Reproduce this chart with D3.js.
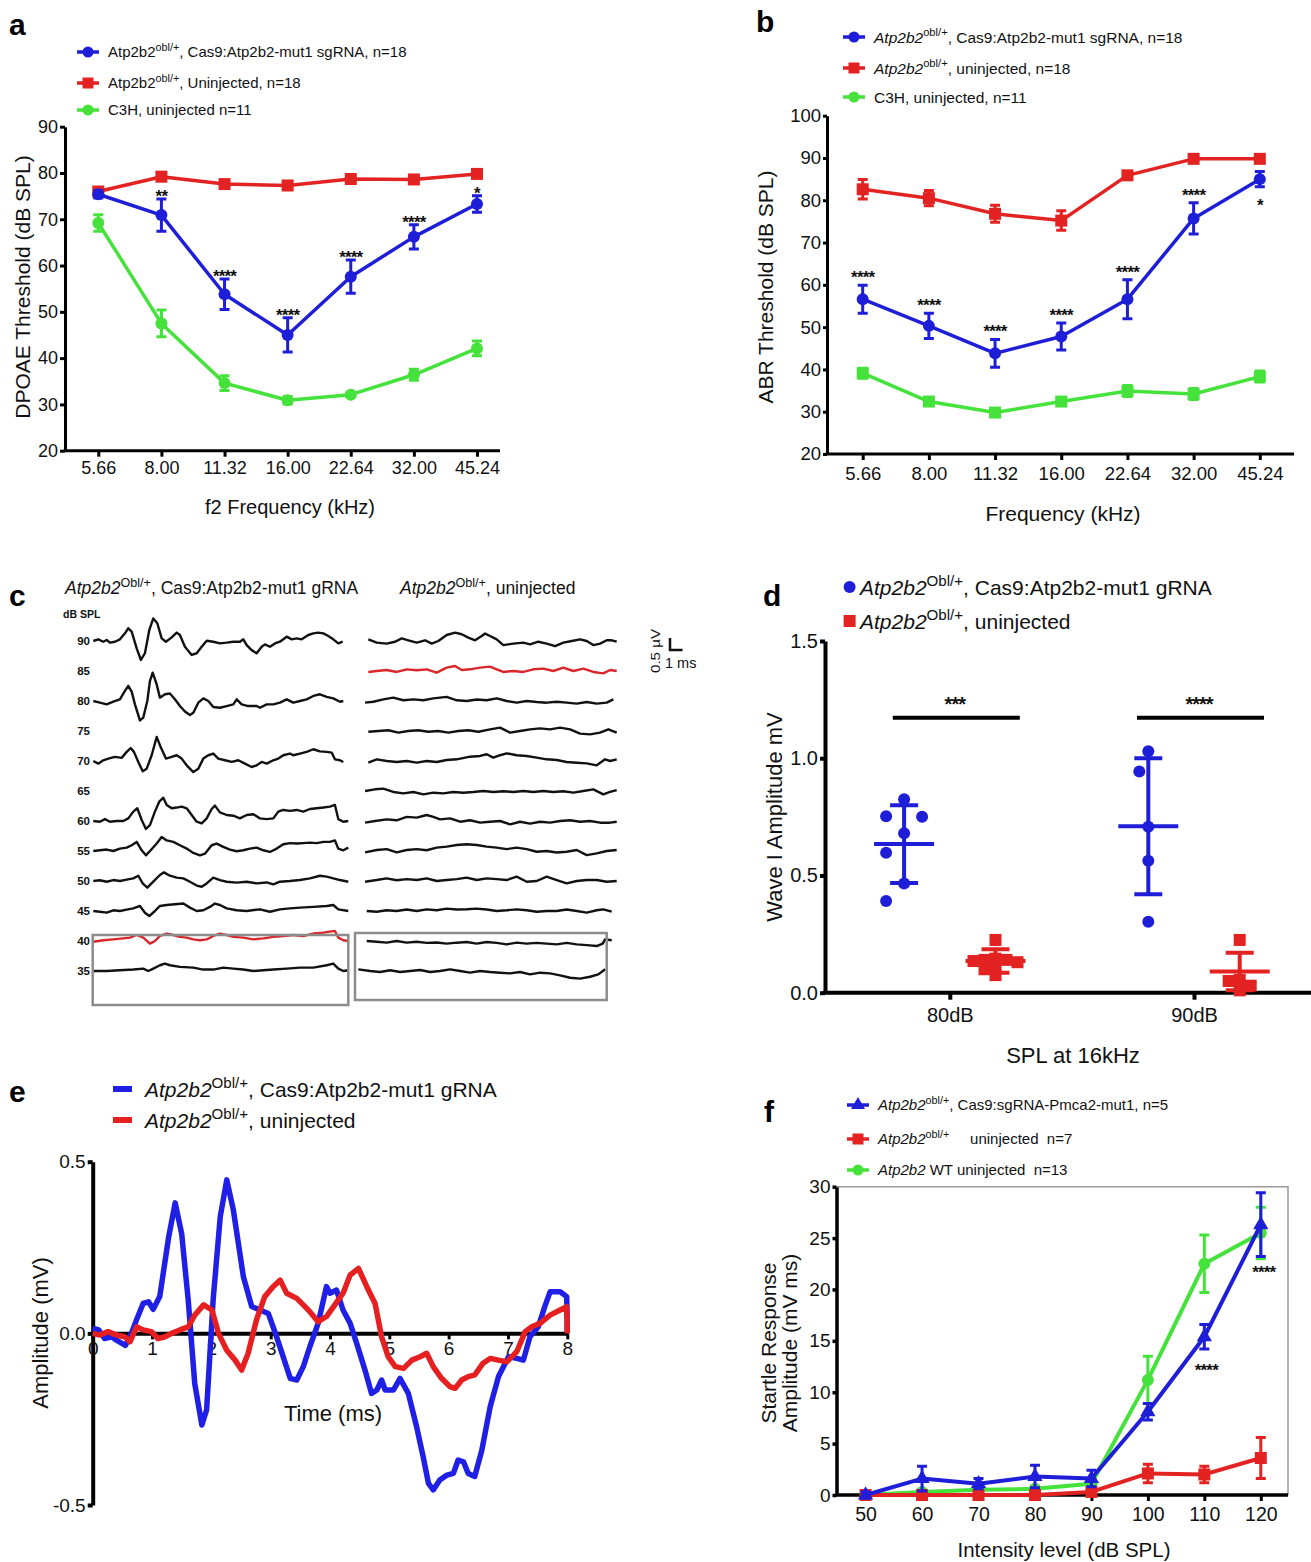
<!DOCTYPE html>
<html>
<head>
<script src="https://d3js.org/d3.v7.min.js"></script>
<style>
  body { margin: 0; background: #fff; }
  svg { display: block; font-family: "Liberation Sans", Arial, Helvetica, sans-serif; }
</style>
</head>
<body>
<svg id="fig" width="1311" height="1562"></svg>
<script>
// ---------- data ----------
// panel a : DPOAE thresholds
const freqs = ["5.66", "8.00", "11.32", "16.00", "22.64", "32.00", "45.24"];
const dpoaeUninj = [76, 79.2, 77.6, 77.3, 78.7, 78.6, 79.8];
const dpoaeUninjErr = [0.7, 0.7, 0.7, 0.7, 0.7, 0.7, 0.7];
const dpoaeCas9 = [75.4, 70.9, 53.8, 45, 57.6, 66.2, 73.3];
const dpoaeCas9Err = [0.8, 3.5, 3.3, 3.7, 3.6, 2.6, 1.8];
const dpoaeC3H = [69.2, 47.5, 34.6, 30.9, 32.1, 36.4, 42.1];
const dpoaeC3HErr = [1.8, 2.9, 1.6, 0.8, 0.5, 1.2, 1.6];
const dpoaeStars = ["", "**", "****", "****", "****", "****", "*"];

// panel b : ABR thresholds
const abrUninj = [82.6, 80.5, 76.8, 75.2, 85.9, 89.8, 89.8];
const abrUninjErr = [2.3, 1.8, 2, 2.3, 0.8, 0.5, 0.5];
const abrCas9 = [56.6, 50.3, 43.8, 47.8, 56.6, 75.7, 85];
const abrCas9Err = [3.3, 3, 3.3, 3.2, 4.6, 3.7, 1.8];
const abrC3H = [39.1, 32.4, 29.8, 32.4, 34.9, 34.2, 38.3];
const abrC3HErr = [1.2, 0.7, 0.5, 0.7, 1.3, 1.3, 1.3];
const abrStars = ["****", "****", "****", "****", "****", "****", "*"];

// panel c : ABR traces (ms, µV)
const abrLevels = [90, 85, 80, 75, 70, 65, 60, 55, 50, 45, 40, 35];
const cas9Trace90 = [[0,0],[0.4,0.07],[0.8,-0.03],[1.07,0.04],[1.33,-0.07],[1.73,-0.03],[2.13,0.07],[2.53,0.32],[2.8,0.53],[3.07,0.39],[3.47,-0.31],[3.81,-0.79],[4.13,-0.51],[4.48,0.46],[4.8,0.94],[5.12,0.74],[5.47,0.11],[5.81,-0.03],[6.27,0.15],[6.67,0.35],[6.93,0.25],[7.33,-0.24],[7.87,-0.58],[8.27,-0.51],[8.67,-0.24],[9.07,0.01],[9.6,-0.03],[10.13,-0.1],[10.67,-0.07],[11.2,-0.03],[11.73,-0.03],[12,0.07],[12.27,-0.17],[12.67,-0.38],[13.07,-0.51],[13.47,-0.24],[13.73,-0.14],[14.13,-0.24],[14.53,-0.1],[14.93,-0.03],[15.47,0.18],[15.87,0.07],[16.27,0.11],[16.67,0.07],[17.2,0.25],[17.6,0.32],[18,0.35],[18.4,0.32],[18.8,0.21],[19.2,0.07],[19.6,-0.1],[19.95,-0.03]];
const cas9Trace80 = [[0,0],[0.53,-0.07],[1.07,-0.14],[1.6,-0.03],[2.13,0.07],[2.53,0.42],[2.8,0.63],[3.07,0.39],[3.33,-0.14],[3.73,-0.81],[4,-0.69],[4.32,0],[4.53,0.83],[4.75,1.18],[5.07,0.69],[5.33,0.14],[5.73,0.28],[6.13,0.31],[6.53,0.07],[6.93,-0.21],[7.33,-0.44],[7.73,-0.58],[8,-0.49],[8.4,-0.07],[8.8,0.11],[9.2,0],[9.6,-0.25],[10.13,-0.28],[10.67,-0.21],[11.2,-0.14],[11.47,0.07],[11.87,-0.14],[12.4,-0.21],[13.07,-0.21],[13.33,-0.28],[13.87,-0.14],[14.4,-0.14],[14.93,-0.07],[15.47,0.07],[16,-0.07],[16.53,0],[17.07,0.07],[17.6,0.21],[18.13,0.28],[18.67,0.17],[19.2,0.11],[19.73,-0.03],[20,0]];
const cas9Trace70 = [[0,0],[0.4,-0.11],[0.8,0.03],[1.2,0.1],[1.73,0.17],[2.27,0.13],[2.67,0.38],[2.99,0.54],[3.25,0.38],[3.6,-0.04],[3.95,-0.43],[4.27,-0.32],[4.67,0.24],[5.07,1.0],[5.39,0.58],[5.81,0.1],[6.27,0.17],[6.67,0.24],[7.07,0.1],[7.47,-0.18],[8,-0.46],[8.4,-0.32],[8.8,0.1],[9.2,0.24],[9.6,0.31],[10,0.1],[10.53,0.03],[11.07,-0.04],[11.6,0.03],[12.13,-0.11],[12.67,-0.25],[13.07,-0.18],[13.47,-0.04],[13.87,-0.11],[14.4,0.03],[14.8,0.1],[15.2,0.24],[15.73,0.31],[16,0.24],[16.53,0.31],[17.07,0.38],[17.6,0.49],[18.13,0.4],[18.67,0.38],[19.07,0.35],[19.33,0.07],[19.73,0.03],[20,-0.04]];
const cas9Trace60 = [[0,0],[0.53,-0.03],[0.93,0.08],[1.33,-0.03],[1.87,0],[2.4,0],[2.8,0.11],[3.2,0.39],[3.52,0.53],[3.87,0.04],[4.21,-0.33],[4.53,-0.17],[4.93,0.39],[5.28,0.81],[5.6,0.97],[5.87,0.67],[6.27,0.53],[6.67,0.56],[7.07,0.6],[7.47,0.53],[7.87,0.25],[8.27,-0.03],[8.67,-0.1],[9.07,0.11],[9.47,0.5],[9.73,0.64],[10.13,0.36],[10.67,0.25],[11.2,0.22],[11.73,0.11],[12.27,0.25],[12.8,0.28],[13.33,0.11],[13.87,0.08],[14.4,0.11],[14.8,0.39],[15.2,0.46],[15.73,0.42],[16.27,0.46],[16.8,0.39],[17.33,0.5],[17.87,0.53],[18.4,0.56],[18.93,0.6],[19.33,0.67],[19.6,0.08],[20,-0.03],[20.4,0]];
const cas9Trace55 = [[0,0],[0.53,0.03],[1.07,0.06],[1.6,0],[2.13,0.1],[2.67,0.14],[3.07,0.24],[3.47,0.38],[3.87,0.03],[4.21,-0.18],[4.59,0.03],[5.07,0.31],[5.47,0.58],[5.87,0.44],[6.4,0.38],[6.93,0.24],[7.47,0.1],[8,-0.08],[8.53,-0.18],[8.93,-0.11],[9.47,0.24],[9.87,0.31],[10.4,0.17],[10.93,0.06],[11.47,-0.01],[12,0.03],[12.53,0.1],[13.07,0.14],[13.6,0.03],[14.13,-0.04],[14.67,0.1],[15.2,0.28],[15.73,0.33],[16.27,0.31],[16.8,0.33],[17.33,0.35],[17.87,0.33],[18.4,0.38],[18.93,0.38],[19.33,0.44],[19.6,0.1],[20,0.03],[20.4,0.14]];
const cas9Trace50 = [[0,0],[0.53,0.03],[1.07,-0.03],[1.6,0.04],[2.13,0],[2.67,0.06],[3.2,0.11],[3.6,0.22],[3.95,-0.1],[4.32,-0.28],[4.8,-0.03],[5.33,0.25],[5.65,0.36],[6.13,0.22],[6.67,0.14],[7.2,0.11],[7.73,-0.03],[8.27,-0.19],[8.67,-0.24],[9.07,-0.1],[9.6,0.14],[10.13,0.04],[10.67,-0.03],[11.47,-0.07],[12.27,-0.03],[13.07,-0.1],[13.87,-0.06],[14.4,-0.14],[14.93,-0.03],[15.73,0],[16.53,0.04],[17.33,0.11],[18.13,0.22],[18.67,0.18],[19.2,0.11],[19.73,0.04],[20.4,-0.03]];
const cas9Trace45 = [[0,0],[0.53,-0.03],[1.07,-0.07],[1.6,0.03],[2.13,0],[2.67,0.06],[3.2,0.11],[3.73,0.21],[4.13,-0.07],[4.48,-0.21],[4.93,0],[5.33,0.21],[5.87,0.25],[6.53,0.28],[7.2,0.31],[7.73,0.14],[8.27,0],[8.8,0.03],[9.33,0.17],[9.73,0.31],[10.13,0.25],[10.67,0.11],[11.47,0.03],[12.27,0],[13.33,0.07],[14.13,-0.03],[14.93,0.07],[15.73,0.11],[16.53,0.14],[17.6,0.17],[18.67,0.21],[19.2,0.25],[19.6,0.07],[20.4,0]];
const cas9Trace40 = [[0,-0.03],[0.8,0.03],[1.6,0.07],[2.4,0.11],[2.93,0.14],[3.47,0.25],[4,0.14],[4.53,-0.11],[4.93,0],[5.33,0.21],[5.87,0.31],[6.4,0.25],[6.93,0.17],[7.47,0.14],[8,0.07],[8.53,0.03],[9.07,0.07],[9.6,0.21],[10.13,0.31],[10.67,0.25],[11.2,0.17],[12,0.14],[12.8,0.07],[13.6,0.11],[14.4,0.17],[15.2,0.21],[16,0.25],[16.8,0.21],[17.6,0.31],[18.4,0.35],[18.93,0.39],[19.33,0.42],[19.6,0.14],[20,0.03],[20.4,0]];
const cas9Trace35 = [[0,0],[1.07,0],[2.13,0.03],[3.2,0.06],[4,0.1],[4.4,0],[4.8,0.1],[5.33,0.24],[5.73,0.31],[6.13,0.24],[6.93,0.17],[8,0.14],[8.8,0.06],[9.6,0.06],[10.4,0.14],[11.2,0.1],[12,0.06],[12.8,0],[13.6,0.03],[14.4,0.06],[15.47,0.1],[16.53,0.14],[17.6,0.14],[18.67,0.24],[19.2,0.31],[19.6,0.1],[20,0],[20.4,0.03]];

const uninjTrace90 = [[0.13,0.07],[0.8,-0.07],[1.6,-0.11],[2.27,-0.03],[2.8,0.11],[3.33,0.03],[4,-0.07],[4.67,0.03],[5.2,-0.11],[5.73,0],[6.4,0.25],[7.07,0.35],[7.6,0.28],[8.13,0.14],[8.67,0.03],[9.2,0.21],[9.47,0.31],[9.87,0.21],[10.4,0.07],[10.93,-0.17],[11.73,-0.11],[12.53,-0.07],[13.07,-0.14],[13.73,-0.03],[14.4,-0.11],[15.07,-0.21],[15.73,-0.07],[16.4,0],[17.07,0.07],[17.6,0],[18.13,-0.17],[18.67,-0.11],[19.2,0.03],[19.6,0.03],[20,-0.03]];
const uninjTrace85 = [[0.13,-0.04],[0.8,0],[1.6,0.04],[2.4,-0.04],[3.2,0.07],[4,0.03],[4.8,0.07],[5.6,-0.07],[6.4,0.14],[7.07,0.21],[7.6,0.04],[8.27,0.07],[9.07,0.14],[9.87,0.18],[10.4,0.07],[10.93,-0.04],[11.73,0],[12.53,-0.04],[13.33,0.07],[14.13,0.1],[14.93,0],[15.73,0.14],[16.53,0],[17.33,0.1],[18.13,-0.04],[18.93,-0.1],[19.47,0.04],[20,0]];
const uninjTrace80 = [[-0.13,-0.07],[0.53,-0.03],[1.33,0.07],[2.13,0.14],[2.93,0.03],[3.73,0.07],[4.53,0.03],[5.33,0.11],[6.4,0.17],[7.2,0.03],[8,0],[8.8,0.06],[9.6,0.03],[10.4,0.11],[11.2,0],[12,-0.07],[12.8,0],[13.6,-0.04],[14.4,-0.07],[15.2,-0.03],[16,-0.07],[16.8,-0.11],[17.6,-0.04],[18.4,-0.11],[19.2,-0.07],[19.73,0.07]];
const uninjTrace75 = [[0.13,-0.03],[0.93,0],[1.73,0.03],[2.53,-0.07],[3.33,0],[4.13,0.03],[4.93,-0.03],[5.73,0],[6.53,-0.07],[7.33,0],[8.13,0.03],[8.93,-0.03],[9.87,0.07],[10.67,0.14],[11.47,-0.07],[12.27,0],[13.07,0.07],[13.87,0.11],[14.67,0.07],[15.47,0.14],[16.27,0.07],[17.07,-0.11],[17.87,-0.14],[18.67,-0.07],[19.33,0.07],[20,-0.07]];
const uninjTrace70 = [[0.13,-0.07],[0.8,0.07],[1.6,0],[2.4,-0.04],[3.2,0],[4,-0.07],[4.8,0],[5.6,-0.04],[6.4,0.04],[7.2,0.07],[8.27,0.18],[9.07,0.21],[9.6,0.28],[10.13,0.14],[10.67,0.24],[11.2,0.32],[12,0.24],[12.8,0.21],[13.6,0.14],[14.4,0.07],[15.2,0.04],[16,-0.04],[16.8,-0.07],[17.6,-0.1],[18.4,-0.18],[19.07,0.07],[19.47,0],[20,0.07]];
const uninjTrace65 = [[-0.13,0],[0.67,0.07],[1.33,0.1],[2.13,-0.04],[2.93,-0.1],[3.73,-0.04],[4.53,-0.14],[5.33,-0.07],[6.13,-0.1],[6.93,-0.04],[7.73,-0.07],[8.53,-0.04],[9.33,0],[10.13,-0.04],[10.93,-0.01],[11.73,-0.04],[12.53,0],[13.33,-0.04],[14.13,0],[14.93,-0.04],[15.73,-0.01],[16.53,-0.07],[17.33,0],[18.13,0.07],[18.93,-0.14],[19.47,-0.04],[20,0.04]];
const uninjTrace60 = [[-0.13,-0.07],[0.67,0],[1.6,0.07],[2.4,0.03],[3.2,0.17],[4,0.14],[4.8,0.25],[5.33,0.17],[5.87,0.07],[6.67,0.11],[7.47,-0.03],[8.27,0.03],[9.07,-0.07],[9.87,-0.03],[10.67,0],[11.47,-0.14],[12.27,-0.03],[13.07,-0.11],[13.87,-0.03],[14.67,-0.07],[15.47,0],[16.27,0.03],[17.07,-0.03],[17.87,0],[18.67,-0.07],[19.47,-0.07],[20,-0.03]];
const uninjTrace55 = [[-0.13,-0.06],[0.8,0.04],[1.6,0.08],[2.4,-0.06],[3.2,0.04],[4,0.08],[4.8,0.03],[5.6,0.14],[6.4,0.18],[7.2,0.25],[8,0.28],[8.8,0.25],[9.6,0.18],[10.4,0.14],[11.2,0.08],[12,0.14],[12.8,0.08],[13.6,-0.03],[14.4,0],[15.2,-0.06],[16,-0.03],[16.8,0.04],[17.6,-0.17],[18.4,-0.1],[19.2,0],[20,0.04]];
const uninjTrace50 = [[-0.13,-0.03],[0.8,0.04],[1.6,0.11],[2.4,0.03],[3.2,0.08],[4,0.04],[4.8,0.11],[5.6,0],[6.4,0.04],[7.2,0.08],[8,0.14],[8.8,0.04],[9.6,0.11],[10.4,0.08],[11.2,0.04],[12,0.18],[12.8,-0.03],[13.6,0],[14.4,0.18],[15.2,0.04],[16,-0.1],[16.8,0],[17.6,0.04],[18.4,0.04],[19.2,-0.03],[20,0]];
const uninjTrace45 = [[0,0],[0.8,-0.03],[1.6,0.03],[2.4,0],[3.2,0.06],[4,0],[4.8,0.07],[5.6,0.03],[6.4,0.1],[7.2,0.06],[8,0.07],[8.8,0.1],[9.6,0.06],[10.4,0],[11.2,0.03],[12,0.07],[12.8,0.03],[13.6,-0.03],[14.4,0],[15.2,0],[16,0.06],[16.8,0],[17.6,-0.07],[18.4,0.03],[18.93,0.07],[19.6,-0.03]];
const uninjTrace40 = [[0,0],[0.8,-0.03],[1.6,-0.07],[2.4,0],[3.2,-0.07],[4,-0.03],[4.8,-0.08],[5.6,-0.06],[6.4,-0.11],[7.2,-0.07],[8,-0.04],[8.8,-0.11],[9.6,-0.04],[10.4,-0.08],[11.2,-0.14],[12,-0.07],[12.8,-0.11],[13.6,-0.08],[14.4,-0.11],[15.2,-0.14],[16,-0.08],[16.8,-0.14],[17.6,-0.17],[18.4,-0.21],[18.88,-0.11],[19.07,0.07],[19.6,0.03]];
const uninjTrace35 = [[-0.67,0.07],[0.27,0],[1.07,-0.04],[1.87,0.03],[2.67,-0.04],[3.47,0],[4.27,0.04],[5.07,-0.04],[5.87,0],[6.67,0.07],[7.47,0],[8.27,-0.07],[9.07,0],[9.87,-0.04],[10.67,-0.07],[11.47,-0.1],[12.27,-0.04],[13.07,-0.14],[13.87,-0.07],[14.67,-0.1],[15.47,-0.18],[16.27,-0.28],[17.07,-0.32],[17.87,-0.24],[18.53,-0.14],[19.07,0.07]];

// panel d : wave I amplitude
const waveLevels = ["80dB", "90dB"];
const waveCas9_80 = [0.825, 0.753, 0.75, 0.68, 0.597, 0.466, 0.391];
const waveCas9_90 = [1.03, 0.943, 0.708, 0.563, 0.303];
const waveUninj_80 = [0.225, 0.145, 0.14, 0.14, 0.135, 0.13, 0.11, 0.1, 0.075];
const waveUninj_90 = [0.225, 0.055, 0.05, 0.03, 0.01];
const waveCas9Mean = [0.634, 0.71];
const waveCas9SD = [0.166, 0.29];
const waveUninjMean = [0.135, 0.09];
const waveUninjSD = [0.05, 0.08];
const waveStars = ["***", "****"];

// panel e : averaged waveforms (ms, mV)
const waveCas9Avg = [[0,0.015],[0.1,0.01],[0.2,-0.015],[0.32,-0.01],[0.4,-0.02],[0.55,-0.035],[0.63,-0.01],[0.74,0.04],[0.85,0.087],[0.94,0.092],[1.02,0.07],[1.13,0.107],[1.28,0.28],[1.39,0.38],[1.5,0.29],[1.61,0.097],[1.72,-0.146],[1.84,-0.267],[1.92,-0.223],[2.03,0.097],[2.15,0.34],[2.26,0.447],[2.37,0.36],[2.54,0.165],[2.68,0.078],[2.82,0.068],[2.96,0.058],[3.1,-0.01],[3.21,-0.068],[3.33,-0.131],[3.44,-0.136],[3.55,-0.097],[3.66,-0.039],[3.8,0.029],[3.94,0.136],[4.0,0.117],[4.11,0.126],[4.22,0.068],[4.34,0.029],[4.45,-0.029],[4.59,-0.107],[4.7,-0.175],[4.79,-0.165],[4.87,-0.136],[4.93,-0.165],[5.07,-0.165],[5.18,-0.131],[5.32,-0.175],[5.46,-0.272],[5.57,-0.359],[5.66,-0.437],[5.74,-0.456],[5.85,-0.427],[5.97,-0.413],[6.08,-0.408],[6.16,-0.369],[6.25,-0.374],[6.33,-0.408],[6.44,-0.417],[6.56,-0.34],[6.7,-0.214],[6.84,-0.126],[7.01,-0.068],[7.15,-0.073],[7.26,-0.078],[7.37,-0.01],[7.51,0.019],[7.62,0.078],[7.71,0.121],[7.88,0.121],[7.99,0.107],[8.0,0.005]];
const waveUninjAvg = [[0,0],[0.12,-0.005],[0.26,0.005],[0.4,-0.005],[0.54,-0.01],[0.63,-0.024],[0.74,0.019],[0.85,0.01],[0.99,0.005],[1.1,-0.015],[1.22,-0.01],[1.33,0],[1.47,0.01],[1.61,0.019],[1.72,0.053],[1.87,0.083],[2.01,0.068],[2.12,0],[2.26,-0.049],[2.4,-0.078],[2.51,-0.107],[2.62,-0.058],[2.76,0.039],[2.9,0.107],[3.04,0.136],[3.16,0.155],[3.27,0.117],[3.44,0.102],[3.55,0.083],[3.66,0.063],[3.8,0.034],[3.94,0.049],[4.06,0.078],[4.22,0.117],[4.34,0.17],[4.48,0.189],[4.62,0.136],[4.76,0.087],[4.87,-0.01],[4.98,-0.068],[5.1,-0.097],[5.24,-0.102],[5.38,-0.078],[5.52,-0.068],[5.63,-0.058],[5.74,-0.097],[5.88,-0.131],[6.02,-0.155],[6.11,-0.16],[6.22,-0.136],[6.33,-0.126],[6.44,-0.121],[6.58,-0.087],[6.7,-0.073],[6.84,-0.078],[6.98,-0.083],[7.15,-0.053],[7.29,0.005],[7.4,0.019],[7.54,0.029],[7.71,0.053],[7.88,0.068],[7.99,0.078],[8.0,0]];

// panel f : acoustic startle
const startleLevels = [50, 60, 70, 80, 90, 100, 110, 120];
const startleCas9 = [0, 1.6, 1.1, 1.8, 1.6, 8.1, 15.4, 26.3];
const startleCas9Err = [0.3, 1.2, 0.5, 1.1, 0.8, 0.8, 1.2, 3.1];
const startleUninj = [0, 0, 0, 0, 0.3, 2.1, 2.0, 3.6];
const startleUninjErr = [0, 0, 0, 0, 0, 0.9, 0.8, 2.0];
const startleWT = [0, 0.3, 0.5, 0.6, 1.1, 11.2, 22.5, 25.5];
const startleWTErr = [0, 0, 0.2, 0.2, 0.3, 2.3, 2.8, 2.5];
const startleStars = ["", "", "", "", "", "", "****", "****"];

// ---------- drawing ----------
const BLUE = "#1e1ed8", RED = "#e32222", GREEN = "#44e23a";
const svg = d3.select("#fig");
svg.append("rect").attr("width", 1311).attr("height", 1562).attr("fill", "#fff");
const fmt1 = d => d3.format(".1f")(d).replace("\u2212", "-");

function richText(g, x, y, parts, fs, anchor) {
  const t = g.append("text").attr("x", x).attr("y", y).attr("font-size", fs)
    .attr("fill", "#111").style("white-space", "pre");
  if (anchor) t.attr("text-anchor", anchor);
  let up = 0;
  parts.forEach(p => {
    const s = t.append("tspan").text(p.t);
    if (p.i) s.attr("font-style", "italic");
    if (p.sup) { s.attr("font-size", fs * 0.72).attr("dy", -fs * 0.42); up = fs * 0.42; }
    else if (up) { s.attr("dy", up); up = 0; }
  });
  return t;
}

function marker(g, shape, x, y, color, s) {
  if (shape === "circle") {
    g.append("circle").attr("cx", x).attr("cy", y).attr("r", s / 2).attr("fill", color);
  } else if (shape === "square") {
    g.append("rect").attr("x", x - s / 2).attr("y", y - s / 2).attr("width", s).attr("height", s).attr("fill", color);
  } else {
    g.append("path").attr("d", d3.symbol(d3.symbolTriangle, s * s * 0.7)())
      .attr("transform", `translate(${x},${y})`).attr("fill", color);
  }
}

function styleAxis(g, fs, w) {
  g.attr("font-size", fs).attr("font-family", null);
  g.select(".domain").attr("stroke", "#000").attr("stroke-width", w);
  g.selectAll(".tick line").attr("stroke", "#000").attr("stroke-width", w);
  g.selectAll(".tick text").attr("fill", "#111");
}

function stars(g, x, y, s) {
  g.append("text").attr("x", x).attr("y", y).attr("text-anchor", "middle").attr("font-size", 17)
    .attr("font-weight", "bold").attr("letter-spacing", -0.8).attr("fill", "#111").text(s);
}

function errorPlot(g, x, y, cats, series, capW) {
  series.forEach(s => {
    const pts = cats.map((c, i) => ({ c: c, v: s.vals[i], e: s.errs[i] }));
    g.append("path").datum(pts).attr("fill", "none").attr("stroke", s.color)
      .attr("stroke-width", s.lw || 3.5).attr("stroke-linejoin", "round")
      .attr("d", d3.line().x(d => x(d.c)).y(d => y(d.v)));
    pts.forEach(d => {
      const x0 = x(d.c);
      if (d.e > 0) {
        const y1 = y(d.v + d.e), y2 = y(d.v - d.e);
        g.append("path").attr("fill", "none").attr("stroke", s.color).attr("stroke-width", 3)
          .attr("d", `M${x0},${y1}V${y2}M${x0 - capW},${y1}H${x0 + capW}M${x0 - capW},${y2}H${x0 + capW}`);
      }
      marker(g, s.shape, x0, y(d.v), s.color, s.size || 12);
    });
  });
}

function legendRow(g, x, y, color, shape, parts, fs) {
  g.append("line").attr("x1", x - 11).attr("x2", x + 11).attr("y1", y).attr("y2", y)
    .attr("stroke", color).attr("stroke-width", 3.5);
  marker(g, shape, x, y, color, 11);
  richText(g, x + 20, y + fs * 0.36, parts, fs);
}

function panelLetter(x, y, s) {
  svg.append("text").attr("x", x).attr("y", y).attr("font-size", 30).attr("font-weight", "bold")
    .attr("fill", "#000").text(s);
}

function yTitle(g, x, y, s, fs) {
  g.append("text").attr("transform", `translate(${x},${y}) rotate(-90)`).attr("text-anchor", "middle")
    .attr("dy", "0.35em").attr("font-size", fs).attr("fill", "#111").text(s);
}

// ----- panel a -----
{
  const g = svg.append("g");
  panelLetter(9, 35, "a");
  const x = d3.scalePoint().domain(freqs).range([98.3, 477]);
  const y = d3.scaleLinear().domain([20, 90]).range([450.7, 126.7]);
  const ax = g.append("g").attr("transform", `translate(0,${y(20)})`)
    .call(d3.axisBottom(x).tickSize(6).tickPadding(5));
  ax.select(".domain").remove();
  styleAxis(ax, 18, 3);
  g.append("line").attr("x1", 63.5).attr("x2", 500).attr("y1", y(20)).attr("y2", y(20))
    .attr("stroke", "#000").attr("stroke-width", 3);
  const ay = g.append("g").attr("transform", "translate(65,0)")
    .call(d3.axisLeft(y).tickValues(d3.range(20, 91, 10)).tickSize(5).tickPadding(2).tickSizeOuter(0));
  styleAxis(ay, 18, 3);
  g.append("text").attr("x", 290).attr("y", 514).attr("text-anchor", "middle").attr("font-size", 20)
    .attr("fill", "#111").text("f2 Frequency (kHz)");
  yTitle(g, 23, 287, "DPOAE Threshold (dB SPL)", 21);
  errorPlot(g, x, y, freqs, [
    { vals: dpoaeUninj, errs: dpoaeUninjErr, color: RED, shape: "square" },
    { vals: dpoaeC3H, errs: dpoaeC3HErr, color: GREEN, shape: "circle" },
    { vals: dpoaeCas9, errs: dpoaeCas9Err, color: BLUE, shape: "circle" }
  ], 5);
  freqs.forEach((f, i) => {
    if (dpoaeStars[i]) stars(g, x(f), y(dpoaeCas9[i] + dpoaeCas9Err[i]) + 3, dpoaeStars[i]);
  });
  const leg = [
    [BLUE, "circle", [{ t: "Atp2b2" }, { t: "obl/+", sup: 1 }, { t: ", Cas9:Atp2b2-mut1 sgRNA, n=18" }], 52],
    [RED, "square", [{ t: "Atp2b2" }, { t: "obl/+", sup: 1 }, { t: ", Uninjected, n=18" }], 83],
    [GREEN, "circle", [{ t: "C3H, uninjected n=11" }], 110]
  ];
  leg.forEach(l => legendRow(g, 88, l[3], l[0], l[1], l[2], 15));
}

// ----- panel b -----
{
  const g = svg.append("g");
  panelLetter(756, 32, "b");
  const x = d3.scalePoint().domain(freqs).range([862.7, 1259.8]);
  const y = d3.scaleLinear().domain([20, 100]).range([454, 115.7]);
  const ax = g.append("g").attr("transform", `translate(0,${y(20)})`)
    .call(d3.axisBottom(x).tickSize(6).tickPadding(7));
  ax.select(".domain").remove();
  styleAxis(ax, 18.5, 3);
  g.append("line").attr("x1", 825.4).attr("x2", 1294).attr("y1", y(20)).attr("y2", y(20))
    .attr("stroke", "#000").attr("stroke-width", 3);
  const ay = g.append("g").attr("transform", "translate(827,0)")
    .call(d3.axisLeft(y).tickValues(d3.range(20, 101, 10)).tickSize(4).tickPadding(2).tickSizeOuter(0));
  styleAxis(ay, 18.5, 3);
  g.append("text").attr("x", 1063).attr("y", 521).attr("text-anchor", "middle").attr("font-size", 21)
    .attr("fill", "#111").text("Frequency (kHz)");
  yTitle(g, 766, 287, "ABR Threshold (dB SPL)", 21);
  errorPlot(g, x, y, freqs, [
    { vals: abrUninj, errs: abrUninjErr, color: RED, shape: "square" },
    { vals: abrC3H, errs: abrC3HErr, color: GREEN, shape: "square" },
    { vals: abrCas9, errs: abrCas9Err, color: BLUE, shape: "circle" }
  ], 5);
  freqs.forEach((f, i) => {
    const last = i === freqs.length - 1;
    const yy = last ? y(abrCas9[i] - abrCas9Err[i]) + 24 : y(abrCas9[i] + abrCas9Err[i]) - 2;
    stars(g, x(f), yy, abrStars[i]);
  });
  const leg = [
    [BLUE, "circle", [{ t: "Atp2b2", i: 1 }, { t: "obl/+", sup: 1 }, { t: ", Cas9:Atp2b2-mut1 sgRNA, n=18" }], 37],
    [RED, "square", [{ t: "Atp2b2", i: 1 }, { t: "obl/+", sup: 1 }, { t: ", uninjected, n=18" }], 68],
    [GREEN, "circle", [{ t: "C3H, uninjected, n=11" }], 97]
  ];
  leg.forEach(l => legendRow(g, 854, l[3], l[0], l[1], l[2], 15.5));
}

// ----- panel c -----
{
  const g = svg.append("g");
  panelLetter(9, 606, "c");
  richText(g, 65, 594, [{ t: "Atp2b2", i: 1 }, { t: "Obl/+", sup: 1 }, { t: ", Cas9:Atp2b2-mut1 gRNA" }], 17.5);
  richText(g, 400, 594, [{ t: "Atp2b2", i: 1 }, { t: "Obl/+", sup: 1 }, { t: ", uninjected" }], 17.5);
  g.append("text").attr("x", 63).attr("y", 618).attr("font-size", 10.5).attr("font-weight", "bold")
    .attr("fill", "#111").text("dB SPL");
  const rowY = d3.scalePoint().domain(abrLevels).range([641, 971]);
  const tLeft = d3.scaleLinear().domain([0, 20]).range([93.3, 343.3]);
  const tRight = d3.scaleLinear().domain([0, 20]).range([366.7, 616.7]);
  const amp = d3.scaleLinear().domain([0, 1]).range([0, -24]);
  abrLevels.forEach(l => {
    g.append("text").attr("x", 90).attr("y", rowY(l) + 4).attr("text-anchor", "end")
      .attr("font-size", 11.5).attr("font-weight", "bold").attr("fill", "#111").text(l);
  });
  const cas9Traces = [[90, cas9Trace90], [80, cas9Trace80], [70, cas9Trace70], [60, cas9Trace60],
    [55, cas9Trace55], [50, cas9Trace50], [45, cas9Trace45], [40, cas9Trace40], [35, cas9Trace35]];
  const uninjTraces = [[90, uninjTrace90], [85, uninjTrace85], [80, uninjTrace80], [75, uninjTrace75],
    [70, uninjTrace70], [65, uninjTrace65], [60, uninjTrace60], [55, uninjTrace55], [50, uninjTrace50],
    [45, uninjTrace45], [40, uninjTrace40], [35, uninjTrace35]];
  const drawTraces = (list, tx, thresh) => list.forEach(([lvl, tr]) => {
    g.append("path").datum(tr).attr("fill", "none")
      .attr("stroke", lvl === thresh ? "#d9262a" : "#111").attr("stroke-width", 2.4)
      .attr("stroke-linejoin", "round")
      .attr("d", d3.line().x(d => tx(d[0])).y(d => rowY(lvl) + amp(d[1])));
  });
  drawTraces(cas9Traces, tLeft, 40);
  drawTraces(uninjTraces, tRight, 85);
  g.append("rect").attr("x", 92.7).attr("y", rowY(40) - 6).attr("width", 255.6)
    .attr("height", rowY(35) + 34 - (rowY(40) - 6)).attr("fill", "none").attr("stroke", "#8c8c8c").attr("stroke-width", 2.5);
  g.append("rect").attr("x", 355).attr("y", rowY(40) - 8).attr("width", 251.7)
    .attr("height", rowY(35) + 29 - (rowY(40) - 8)).attr("fill", "none").attr("stroke", "#8c8c8c").attr("stroke-width", 2.5);
  // scale bar
  const sx = 670, sy = 650;
  g.append("path").attr("fill", "none").attr("stroke", "#111").attr("stroke-width", 2.5)
    .attr("d", `M${sx},${sy + amp(0.5)}V${sy}H${sx + tRight(1) - tRight(0)}`);
  g.append("text").attr("transform", `translate(660,${sy + 1}) rotate(-90)`).attr("text-anchor", "middle")
    .attr("font-size", 12).attr("textLength", 44).attr("lengthAdjust", "spacingAndGlyphs")
    .attr("fill", "#111").text("0.5 \u00b5V");
  g.append("text").attr("x", 665).attr("y", 668).attr("font-size", 14.5).attr("fill", "#111").text("1 ms");
}

// ----- panel d -----
{
  const g = svg.append("g");
  panelLetter(763, 606, "d");
  const x = d3.scalePoint().domain(waveLevels).range([949.8, 1194]);
  const y = d3.scaleLinear().domain([0, 1.5]).range([992.7, 641]);
  const ay = g.append("g").attr("transform", "translate(825,0)")
    .call(d3.axisLeft(y).tickValues([0, 0.5, 1, 1.5]).tickFormat(fmt1).tickSize(5).tickPadding(2).tickSizeOuter(0));
  styleAxis(ay, 20, 4);
  const ax = g.append("g").attr("transform", `translate(0,${y(0)})`)
    .call(d3.axisBottom(x).tickSize(7).tickPadding(8));
  ax.select(".domain").remove();
  styleAxis(ax, 20, 4);
  g.append("line").attr("x1", 823).attr("x2", 1311).attr("y1", y(0)).attr("y2", y(0))
    .attr("stroke", "#000").attr("stroke-width", 4);
  g.append("text").attr("x", 1073).attr("y", 1063).attr("text-anchor", "middle").attr("font-size", 22)
    .attr("fill", "#111").text("SPL at 16kHz");
  yTitle(g, 774, 817, "Wave I Amplitude mV", 22);

  // simple beeswarm so that overlapping values spread sideways
  function swarm(vals, cx, size, step) {
    const placed = [];
    return vals.map(v => {
      const py = y(v);
      let px = cx;
      for (let k = 0; k < 30; k++) {
        const off = (k % 2 ? -1 : 1) * Math.ceil(k / 2) * step;
        const hit = placed.some(p => Math.hypot(p[0] - (cx + off), p[1] - py) < size);
        if (!hit) { px = cx + off; break; }
      }
      placed.push([px, py]);
      return [px, py];
    });
  }
  const groups = [
    { vals: [waveCas9_80, waveCas9_90], mean: waveCas9Mean, sd: waveCas9SD, color: BLUE, shape: "circle", dx: -45.7, size: 22, step: 9 },
    { vals: [waveUninj_80, waveUninj_90], mean: waveUninjMean, sd: waveUninjSD, color: RED, shape: "square", dx: 45.7, size: 7, step: 11 }
  ];
  groups.forEach(gr => {
    waveLevels.forEach((lv, i) => {
      const cx = x(lv) + gr.dx;
      swarm(gr.vals[i], cx, gr.size, gr.step).forEach(p => marker(g, gr.shape, p[0], p[1], gr.color, 12));
      const m = y(gr.mean[i]), t = y(gr.mean[i] + gr.sd[i]), b = y(Math.max(0, gr.mean[i] - gr.sd[i]));
      g.append("path").attr("fill", "none").attr("stroke", gr.color).attr("stroke-width", 4)
        .attr("d", `M${cx - 30},${m}H${cx + 30}M${cx},${t}V${b}M${cx - 14},${t}H${cx + 14}M${cx - 14},${b}H${cx + 14}`);
    });
  });
  waveLevels.forEach((lv, i) => {
    g.append("line").attr("x1", x(lv) - 57).attr("x2", x(lv) + 70).attr("y1", 717.7).attr("y2", 717.7)
      .attr("stroke", "#000").attr("stroke-width", 4);
    g.append("text").attr("x", x(lv) + 5).attr("y", 711).attr("text-anchor", "middle").attr("font-size", 20)
      .attr("font-weight", "bold").attr("letter-spacing", -1).attr("fill", "#111").text(waveStars[i]);
  });
  marker(g, "circle", 849.6, 587, BLUE, 12);
  richText(g, 860, 595, [{ t: "Atp2b2", i: 1 }, { t: "Obl/+", sup: 1 }, { t: ", Cas9:Atp2b2-mut1 gRNA" }], 21);
  marker(g, "square", 849.6, 621, RED, 12);
  richText(g, 860, 629, [{ t: "Atp2b2", i: 1 }, { t: "Obl/+", sup: 1 }, { t: ", uninjected" }], 21);
}

// ----- panel e -----
{
  const g = svg.append("g");
  panelLetter(9, 1102, "e");
  const x = d3.scaleLinear().domain([0, 8]).range([92.7, 567.3]);
  const y = d3.scaleLinear().domain([-0.5, 0.5]).range([1505, 1161.7]);
  const ay = g.append("g").attr("transform", `translate(${x(0)},0)`)
    .call(d3.axisLeft(y).tickValues([-0.5, 0, 0.5]).tickFormat(fmt1).tickSize(5).tickPadding(2).tickSizeOuter(0));
  styleAxis(ay, 19, 4);
  const ax = g.append("g").attr("transform", `translate(0,${y(0)})`)
    .call(d3.axisBottom(x).tickValues(d3.range(0, 9)).tickFormat(d3.format("d")).tickSize(6).tickPadding(2).tickSizeOuter(0));
  styleAxis(ax, 19, 4);
  ax.selectAll(".tick line").attr("stroke-width", 3);
  g.append("text").attr("x", 333).attr("y", 1421).attr("text-anchor", "middle").attr("font-size", 22)
    .attr("fill", "#111").text("Time (ms)");
  yTitle(g, 40, 1333, "Amplitude (mV)", 22);
  const line = d3.line().x(d => x(d[0])).y(d => y(d[1]));
  g.append("path").datum(waveCas9Avg).attr("d", line).attr("fill", "none").attr("stroke", "#1f1fe6")
    .attr("stroke-width", 5.5).attr("stroke-linejoin", "round");
  g.append("path").datum(waveUninjAvg).attr("d", line).attr("fill", "none").attr("stroke", "#e62020")
    .attr("stroke-width", 5.5).attr("stroke-linejoin", "round");
  [["#1f1fe6", 1089, ", Cas9:Atp2b2-mut1 gRNA"], ["#e62020", 1120, ", uninjected"]].forEach(r => {
    g.append("line").attr("x1", 113).attr("x2", 132).attr("y1", r[1]).attr("y2", r[1])
      .attr("stroke", r[0]).attr("stroke-width", 6);
    richText(g, 145, r[1] + 8, [{ t: "Atp2b2", i: 1 }, { t: "Obl/+", sup: 1 }, { t: r[2] }], 21);
  });
}

// ----- panel f -----
{
  const g = svg.append("g");
  panelLetter(764, 1122, "f");
  const x = d3.scaleLinear().domain([50, 120]).range([865.6, 1260.8]);
  const y = d3.scaleLinear().domain([0, 30]).range([1495, 1186.7]);
  g.append("path").attr("fill", "none").attr("stroke", "#999").attr("stroke-width", 1.5)
    .attr("d", `M836.5,${y(30)}H1288V${y(0)}`);
  const ay = g.append("g").attr("transform", "translate(836.5,0)")
    .call(d3.axisLeft(y).tickValues(d3.range(0, 31, 5)).tickSize(4).tickPadding(2).tickSizeOuter(0));
  styleAxis(ay, 19, 3.5);
  const ax = g.append("g").attr("transform", `translate(0,${y(0)})`)
    .call(d3.axisBottom(x).tickValues(startleLevels).tickSize(6).tickPadding(6));
  ax.select(".domain").remove();
  styleAxis(ax, 19.5, 3);
  g.append("line").attr("x1", 835).attr("x2", 1288).attr("y1", y(0)).attr("y2", y(0))
    .attr("stroke", "#000").attr("stroke-width", 3.5);
  g.append("text").attr("x", 1064).attr("y", 1557).attr("text-anchor", "middle").attr("font-size", 20.5)
    .attr("fill", "#111").text("Intensity level (dB SPL)");
  yTitle(g, 769, 1343, "Startle Response", 21);
  yTitle(g, 790, 1343, "Amplitude (mV ms)", 21);
  errorPlot(g, x, y, startleLevels, [
    { vals: startleWT, errs: startleWTErr, color: GREEN, shape: "circle", lw: 4 },
    { vals: startleUninj, errs: startleUninjErr, color: RED, shape: "square", lw: 4 },
    { vals: startleCas9, errs: startleCas9Err, color: BLUE, shape: "triangle", lw: 4 }
  ], 5);
  startleLevels.forEach((l, i) => {
    if (!startleStars[i]) return;
    stars(g, x(l) + (i === 7 ? 3 : 2), y(startleCas9[i] - startleCas9Err[i]) + (i === 7 ? 21 : 27), startleStars[i]);
  });
  const leg = [
    [BLUE, "triangle", [{ t: "Atp2b2", i: 1 }, { t: "obl/+", sup: 1 }, { t: ", Cas9:sgRNA-Pmca2-mut1, n=5" }], 1105],
    [RED, "square", [{ t: "Atp2b2", i: 1 }, { t: "obl/+", sup: 1 }, { t: "     uninjected  n=7" }], 1139],
    [GREEN, "circle", [{ t: "Atp2b2", i: 1 }, { t: " WT uninjected  n=13" }], 1170]
  ];
  leg.forEach(l => legendRow(g, 858, l[3], l[0], l[1], l[2], 15));
}
</script>
</body>
</html>
